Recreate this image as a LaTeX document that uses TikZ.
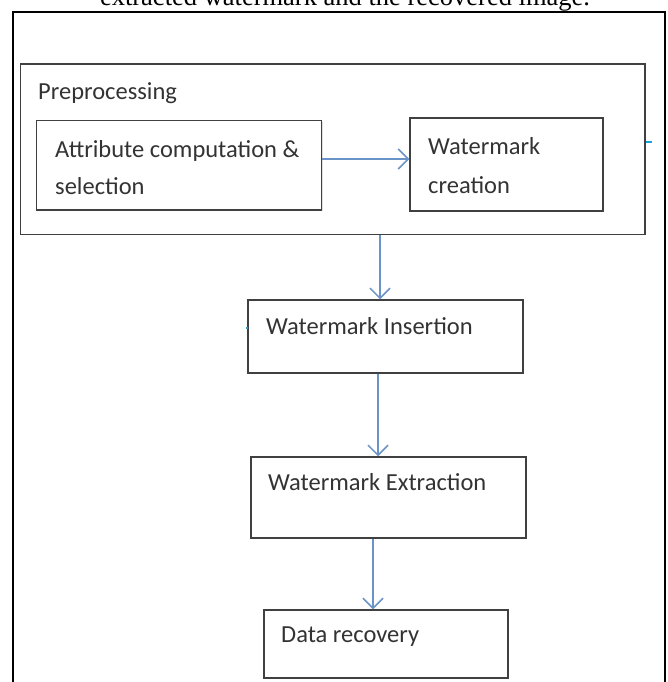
\documentclass[tikz,border=0pt]{standalone}
\usepackage{fontspec}
\setmainfont{Carlito}
\newfontfamily\capfont{Liberation Serif}
\usetikzlibrary{arrows.meta,shadows}
\definecolor{boxline}{HTML}{404040}
\definecolor{txt}{HTML}{333333}
\definecolor{arrblue}{HTML}{6A93C8}
\definecolor{tick}{HTML}{1AA0DC}
\begin{document}
\begin{tikzpicture}[x=1pt,y=-1pt,
  box/.style={draw=boxline,line width=1.5pt,rectangle,inner sep=0pt,fill=white,
    drop shadow={shadow xshift=1pt,shadow yshift=-1pt,opacity=0.25}},
  lbl/.style={anchor=base west,inner sep=0pt,text=txt,font=\fontsize{24.5}{37}\selectfont},
  arr/.style={draw=arrblue,line width=1.5pt,-{Straight Barb[length=10pt,width=20pt,line width=1.5pt]}}]
\useasboundingbox[fill=white] (0,0) rectangle (668,682);
% caption (cut at top)
\node[anchor=base,inner sep=0pt,font=\capfont\fontsize{26.5}{30}\selectfont] (cap) at (345,5.5) {extracted watermark and the recovered image.};
% outer frame
\draw[line width=2pt,black] (13.3,690) -- (13.3,12.3) -- (665,12.3) -- (665,690);
% boxes
\node[box,minimum width=624.3pt,minimum height=170.3pt] (pre) at (332.85,149.15) {};
\node[box,minimum width=285pt,minimum height=89.3pt] (attr) at (179.2,165.35) {};
\node[box,minimum width=193pt,minimum height=93pt] (wmc) at (506.5,164.5) {};
\node[box,minimum width=275pt,minimum height=73pt] (ins) at (385.5,336.5) {};
\node[box,minimum width=275pt,minimum height=81pt] (ext) at (388.5,497.5) {};
\node[box,minimum width=244pt,minimum height=68pt] (rec) at (386,644) {};
% labels
\node[lbl] (tpre) at (38,100) {Preprocessing};
\node[lbl] (tattr1) at (55,157) {Attribute computation \&};
\node[lbl] (tattr2) at (55,194) {selection};
\node[lbl] (twmc1) at (428,154) {Watermark};
\node[lbl] (twmc2) at (428,193) {creation};
\node[lbl] (tins) at (266,334) {Watermark Insertion};
\node[lbl] (text) at (268,490.5) {Watermark Extraction};
\node[lbl] (trec) at (281,642) {Data recovery};
% connectors
\coordinate (a1) at ([yshift=6.35pt]attr.east);
\draw[arr] (a1) -- (a1 -| wmc.west);
\coordinate (b1) at ([xshift=-5.5pt]ins.north);
\draw[arr] (b1 |- pre.south) -- (b1);
\coordinate (c1) at ([xshift=-7.5pt]ins.south);
\draw[arr] (c1) -- (c1 |- ext.north);
\coordinate (d1) at ([xshift=-15.5pt]ext.south);
\draw[arr] (d1) -- (d1 |- rec.north);
% small blue marks
\coordinate (m1) at (645.5,142);
\coordinate (m2) at (651.5,142);
\draw[tick,line width=1.6pt] (m1) -- (m2);
\coordinate (m3) at (245.5,328);
\coordinate (m4) at (248,328);
\draw[tick,line width=1.6pt] (m3) -- (m4);
\end{tikzpicture}
\end{document}
